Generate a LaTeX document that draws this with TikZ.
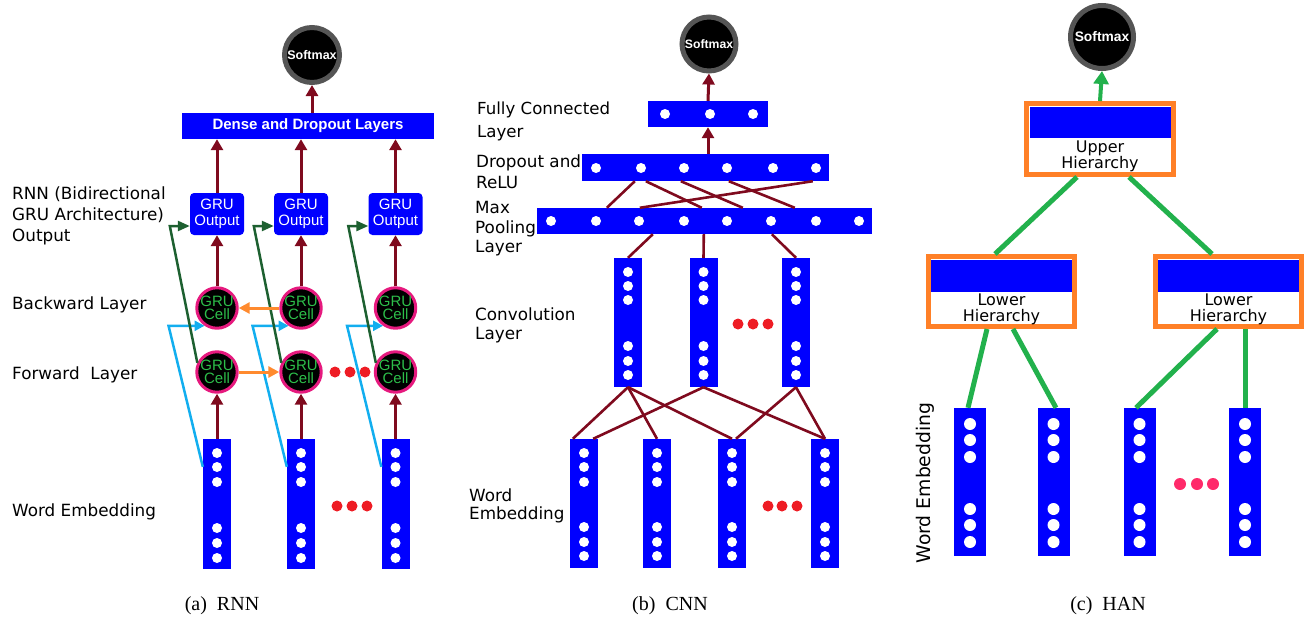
\documentclass[tikz,border=0pt]{standalone}
\usepackage{fontspec}
\setmainfont{DejaVu Sans}
\newfontfamily\arfont{Liberation Sans}
\newfontfamily\capfont{Liberation Serif}
\usetikzlibrary{arrows.meta}
\definecolor{bblue}{HTML}{0000FF}
\definecolor{dred}{HTML}{7F0A1E}
\definecolor{orng}{HTML}{FF8A2E}
\definecolor{sky}{HTML}{12AEEF}
\definecolor{dgreen}{HTML}{1D6030}
\definecolor{pinkb}{HTML}{E6197E}
\definecolor{cellg}{HTML}{2DBE4A}
\definecolor{hgreen}{HTML}{22B14C}
\definecolor{hor}{HTML}{FF8027}
\definecolor{rdot}{HTML}{EE1C24}
\definecolor{pdot}{HTML}{FF2A6A}
\definecolor{ring}{HTML}{555555}
\begin{document}
\begin{tikzpicture}[x=1pt,y=-1pt,
  softmax/.style={circle, fill=black, draw=ring, line width=5pt, inner sep=0pt, text=white, font=\arfont\bfseries\fontsize{12.5}{12}\selectfont},
  bar/.style={rectangle, fill=bblue, draw=none, inner sep=0pt},
  arr/.style={draw=dred, line width=3pt, -{Triangle[width=12pt,length=11pt]}},
  link/.style={draw=dred, line width=2.6pt},
  orarr/.style={draw=orng, line width=3pt, -{Triangle[width=11pt,length=11pt]}},
  skyarr/.style={draw=sky, line width=2.5pt, -{Triangle[width=10pt,length=10pt]}},
  grarr/.style={draw=dgreen, line width=2.5pt, -{Triangle[width=10pt,length=12pt]}},
  harr/.style={draw=hgreen, line width=4pt, -{Triangle[width=15pt,length=13pt]}},
  hlink/.style={draw=hgreen, line width=5pt},
  cell/.style={circle, fill=black, draw=pinkb, line width=3pt, minimum size=39pt, inner sep=0pt, text=cellg, align=center, font=\arfont\fontsize{15}{12.5}\selectfont},
  outbox/.style={rectangle, rounded corners=4pt, fill=bblue, minimum width=54pt, minimum height=42pt, inner sep=0pt, text=white, align=center, font=\arfont\fontsize{15}{16.5}\selectfont},
  lab/.style={anchor=west, align=left, inner sep=0pt, font=\fontsize{16.8}{21}\selectfont},
  hbox/.style={rectangle, draw=hor, line width=5pt, fill=white, inner sep=0pt},
  htext/.style={align=center, inner sep=0pt, font=\fontsize{16}{16}\selectfont},
  captxt/.style={font=\capfont\fontsize{20}{20}\selectfont}
]
\useasboundingbox (0,0) rectangle (1308,621);

% ================= (a) RNN =================
\node[softmax, minimum size=55pt] (rSoft) at (312,55) {Softmax};
\node[bar, minimum width=252pt, minimum height=26pt, text=white, font=\arfont\bfseries\fontsize{15}{15}\selectfont] (rDense) at (308,126) {Dense and Dropout Layers};
\foreach \i/\x in {1/217,2/301,3/395.5}{
  \node[outbox] (rO\i) at (\x,214) {GRU\\Output};
  \node[cell] (rB\i) at (\x,308) {GRU\\Cell};
  \node[cell] (rF\i) at (\x,372) {GRU\\Cell};
  \node[bar, minimum width=28pt, minimum height=130pt] (rE\i) at (\x,504) {};
  \foreach \y in {453,467,482,528,543,558} \fill[white] (\x,\y) circle (5pt);
}
\foreach \x in {335,350,365} \fill[rdot] (\x,372) circle (5.5pt);
\foreach \x in {337,352,367} \fill[rdot] (\x,506) circle (5.5pt);

\draw[arr] (rSoft.south |- rDense.north) -- (rSoft.south);
\foreach \i in {1,2,3}{
  \draw[arr] (rO\i.north) -- (rO\i.north |- rDense.south);
  \draw[arr] (rB\i.north) -- (rO\i.south);
  \draw[arr] (rE\i.north) -- (rF\i.south);
  \draw[skyarr] ([yshift=-28pt]rE\i.north west) -- ([xshift=-36pt]rB\i.235) -- (rB\i.235);
  \draw[grarr] (rF\i.155) -- ([xshift=-20pt,yshift=-12pt]rO\i.west) -- ([yshift=-12pt]rO\i.west);
}
\draw[orarr] (rB2.west) -- (rB1.east);
\draw[orarr] (rF1.east) -- (rF2.west);

\node[lab] (lRNN) at (12,216) {RNN (Bidirectional\\GRU Architecture)\\Output};
\node[lab] (lBack) at (12,305) {Backward Layer};
\node[lab] (lFwd) at (12,375) {Forward\ \ Layer};
\node[lab] (lWE) at (12,512) {Word Embedding};
\node[captxt] (capA) at (222,606) {(a)\ \ RNN};

% ================= (b) CNN =================
\node[softmax, minimum size=54pt, font=\arfont\bfseries\fontsize{12.2}{12}\selectfont] (cSoft) at (709,44) {Softmax};
\node[bar, minimum width=120pt, minimum height=26pt] (cFC) at (708,114) {};
\node[bar, minimum width=247pt, minimum height=27pt] (cDrop) at (705.5,167.5) {};
\node[bar, minimum width=335pt, minimum height=26pt] (cPool) at (704.5,221) {};
\foreach \x in {665,710,753} \fill[white] (\x,114) circle (5pt);
\foreach \x in {596,641,684,727,773,816} \fill[white] (\x,168) circle (5pt);
\foreach \x in {551,596,639,684,727,771,816,859} \fill[white] (\x,221) circle (5pt);
\foreach \i/\x in {1/628,2/703.5,3/796}{
  \node[bar, minimum width=28pt, minimum height=129pt] (cC\i) at (\x,322.5) {};
  \foreach \y in {272,286,300,346,361,375} \fill[white] (\x,\y) circle (5pt);
}
\foreach \i/\x in {1/584,2/657,3/732,4/825}{
  \node[bar, minimum width=28pt, minimum height=129pt] (cE\i) at (\x,503.5) {};
  \foreach \y in {453,467,482,527,542,556} \fill[white] (\x,\y) circle (5pt);
}
\foreach \x in {738,753,768} \fill[rdot] (\x,324) circle (5.5pt);
\foreach \x in {768,782,797} \fill[rdot] (\x,506) circle (5.5pt);

\draw[arr] (cFC.north) -- (cSoft.south);
\draw[arr] (cFC.south |- cDrop.north) -- (cFC.south);
\foreach \a/\b in {53/70,64/165,99/206,147/258,231/103}
  \draw[link] ([xshift=\a pt]cDrop.south west) -- ([xshift=\b pt]cPool.north west);
\draw[link] (cC1.north) -- ([xshift=116pt]cPool.south west);
\draw[link] (cC2.north) -- ([xshift=167pt]cPool.south west);
\draw[link] (cC3.north) -- ([xshift=235pt]cPool.south west);
\draw[link] (cC1.south) -- ([xshift=3pt]cE1.north west);
\draw[link] (cC1.south) -- (cE2.north);
\draw[link] (cC1.south) -- (cE3.north);
\draw[link] (cC2.south) -- ([xshift=-5pt]cE1.north east);
\draw[link] (cC2.south) -- (cE4.north);
\draw[link] (cC3.south) -- ([xshift=4pt]cE3.north);
\draw[link] (cC3.south) -- (cE4.north);

\node[lab, font=\fontsize{16.6}{23}\selectfont] (lFC) at (477,121.5) {Fully Connected\\Layer};
\node[lab] (lDrop) at (476,171.5) {Dropout and\\ReLU};
\node[lab, font=\fontsize{16.8}{19.5}\selectfont] (lPool) at (475,229) {Max\\Pooling\\Layer};
\node[lab, font=\fontsize{16.8}{19}\selectfont] (lConv) at (475,325.5) {Convolution\\Layer};
\node[lab, font=\fontsize{16.8}{18.5}\selectfont] (lWE2) at (469,506) {Word\\Embedding};
\node[captxt] (capB) at (670,606) {(b)\ \ CNN};

% ================= (c) HAN =================
\node[softmax, minimum size=63pt, font=\arfont\bfseries\fontsize{13.8}{14}\selectfont] (hSoft) at (1102,37) {Softmax};
\node[hbox, minimum width=147pt, minimum height=71pt] (hU) at (1100,139) {};
\fill[bblue] (1030,107) rectangle (1171,138);
\node[htext] (hUt) at (1100,156) {Upper\\Hierarchy};
\node[hbox, minimum width=146pt, minimum height=70pt] (hL1) at (1001.5,291.5) {};
\fill[bblue] (931,260) rectangle (1072,292);
\node[htext] (hL1t) at (1001.5,309.5) {Lower\\Hierarchy};
\node[hbox, minimum width=146pt, minimum height=70pt] (hL2) at (1228.5,291.5) {};
\fill[bblue] (1158,260) rectangle (1299,292);
\node[htext] (hL2t) at (1228.5,309.5) {Lower\\Hierarchy};
\foreach \i/\x in {1/970,2/1053.5,3/1139.5,4/1245}{
  \node[bar, minimum width=32pt, minimum height=148pt] (hE\i) at (\x,482) {};
  \foreach \y in {424,440,457,509,525,542} \fill[white] (\x,\y) circle (6pt);
}
\foreach \x in {1180,1197,1213} \fill[pdot] (\x,484) circle (6pt);

\draw[harr] (hU.north) -- (hSoft.south);
\draw[hlink] ([xshift=-23pt]hU.south) -- ([xshift=-6.5pt]hL1.north);
\draw[hlink] ([xshift=29pt]hU.south) -- ([xshift=-16.5pt]hL2.north);
\draw[hlink] ([xshift=-14.5pt]hL1.south) -- ([xshift=-2pt]hE1.north);
\draw[hlink] ([xshift=11.5pt]hL1.south) -- ([xshift=2.5pt]hE2.north);
\draw[hlink] ([xshift=-11.5pt]hL2.south) -- ([xshift=-3.5pt]hE3.north);
\draw[hlink] ([xshift=16.5pt]hL2.south) -- (hE4.north);

\node[rotate=90, inner sep=0pt, font=\fontsize{18.8}{19}\selectfont] (lWE3) at (925,483) {Word Embedding};
\node[captxt] (capC) at (1108,606) {(c)\ \ HAN};
\end{tikzpicture}
\end{document}
